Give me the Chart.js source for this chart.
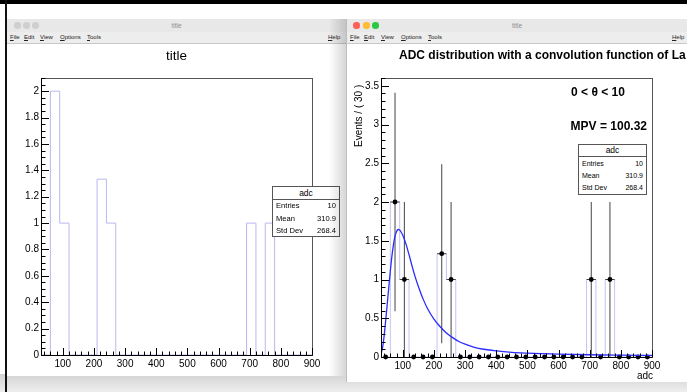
<!DOCTYPE html>
<html>
<head>
<meta charset="utf-8">
<script src="https://cdn.jsdelivr.net/npm/chart.js@4.4.1/dist/chart.umd.min.js"></script>
<style>
  body { margin: 0; width: 687px; height: 392px; overflow: hidden; background: #fff; position: relative;
         font-family: "Liberation Sans", Arial, Helvetica, sans-serif; }
  .abs { position: absolute; }
  #shadowBottom { left: 0; top: 374px; width: 687px; height: 18px; background: linear-gradient(#d2d2d2, #eeeeee); }
  #topbar { left: 0; top: 0; width: 687px; height: 4px; background: #000; z-index: 9; }
  #leftline { left: 5px; top: 0; width: 2px; height: 392px; background: #111; z-index: 9; }
  .win { position: absolute; background: #fff; overflow: hidden; }
  .titlebar { position: absolute; left: 0; top: 0; right: 0; height: 13px; background: #e8e8e8;
              font-size: 6.5px; color: #8c8c8c; text-align: center; line-height: 13px; }
  .dot { position: absolute; top: 3px; width: 6.5px; height: 6.5px; border-radius: 50%; }
  .menubar { position: absolute; left: 0; top: 13px; right: 0; height: 11px; background: #ededed;
             border-bottom: 1px solid #c9c9c9; font-size: 6px; line-height: 11px; color: #222; }
  .menubar span { position: absolute; top: 0; }
  canvas { position: absolute; }
  .stat { position: absolute; background: #fff; border: 1px solid #555; box-sizing: border-box; color: #000; }
  .stat .hd { text-align: center; border-bottom: 1px solid #555; }
  .stat .row { position: relative; padding: 0 3px; }
  .stat .row b { font-weight: normal; position: absolute; right: 3px; top: 0; }
  .lbl { position: absolute; color: #000; white-space: nowrap; z-index: 5; }
</style>
</head>
<body>
<div id="shadowBottom" class="abs"></div>

<div class="win" id="winL" style="left:7px; top:19px; width:339px; height:357px;">
  <div class="titlebar">title
    <div class="dot" style="left:7px; background:#cfcfcf;"></div>
    <div class="dot" style="left:16px; background:#cfcfcf;"></div>
    <div class="dot" style="left:25px; background:#cfcfcf;"></div>
  </div>
  <div class="menubar">
    <span style="left:3px"><u>F</u>ile</span>
    <span style="left:17px"><u>E</u>dit</span>
    <span style="left:33px"><u>V</u>iew</span>
    <span style="left:53px"><u>O</u>ptions</span>
    <span style="left:80px"><u>T</u>ools</span>
    <span style="left:321px"><u>H</u>elp</span>
  </div>
  <canvas id="leftChart" width="339" height="332" style="left:0; top:25px;"></canvas>
  <div class="lbl" style="left:0; width:339px; top:29px; text-align:center; font-size:13.5px;">title</div>
  <div class="stat" style="left:265px; top:167px; width:68px; height:51px; font-size:7.6px;">
    <div class="hd" style="height:12px; line-height:12px; font-size:8.5px;">adc</div>
    <div class="row" style="height:12.5px; line-height:12.5px;">Entries<b>10</b></div>
    <div class="row" style="height:12.5px; line-height:12.5px;">Mean<b>310.9</b></div>
    <div class="row" style="height:12.5px; line-height:12.5px;">Std Dev<b>268.4</b></div>
  </div>
  <div class="abs" style="left:322px; top:0; width:17px; height:357px; background:linear-gradient(to right, rgba(0,0,0,0), rgba(0,0,0,0.16)); z-index:6;"></div>
</div>

<div class="win" id="winR" style="left:346px; top:19px; width:341px; height:363px; border-left:1px solid #bdbdbd; box-sizing:border-box;">
  <div class="titlebar">title
    <div class="dot" style="left:6px; background:#fe5f57;"></div>
    <div class="dot" style="left:16px; background:#febc2e;"></div>
    <div class="dot" style="left:25px; background:#28c840;"></div>
  </div>
  <div class="menubar">
    <span style="left:3px"><u>F</u>ile</span>
    <span style="left:17px"><u>E</u>dit</span>
    <span style="left:34px"><u>V</u>iew</span>
    <span style="left:54px"><u>O</u>ptions</span>
    <span style="left:81px"><u>T</u>ools</span>
    <span style="left:325px"><u>H</u>elp</span>
  </div>
  <canvas id="rightChart" width="340" height="338" style="left:0; top:25px;"></canvas>
  <div class="lbl" style="left:52px; top:29px; font-size:12px; font-weight:bold;">ADC distribution with a convolution function of La</div>
  <div class="lbl" style="left:6px; top:128px; font-size:10px; transform:rotate(-90deg); transform-origin:0 0;">Events / ( 30 )</div>
  <div class="lbl" style="left:221px; top:66px; width:60px; text-align:center; font-size:12px; font-weight:bold;">0 &lt; &theta; &lt; 10</div>
  <div class="lbl" style="right:40px; top:100px; font-size:12px; font-weight:bold;">MPV = 100.32</div>
  <div class="stat" style="left:231px; top:125px; width:69px; height:51px; font-size:7px;">
    <div class="hd" style="height:11px; line-height:11px; font-size:8.5px;">adc</div>
    <div class="row" style="height:12.5px; line-height:13px;">Entries<b>10</b></div>
    <div class="row" style="height:12.5px; line-height:12px;">Mean<b>310.9</b></div>
    <div class="row" style="height:12.5px; line-height:11px;">Std Dev<b>268.4</b></div>
  </div>
  <div class="lbl" style="right:34px; top:351px; font-size:10px;">adc</div>
</div>

<div id="topbar" class="abs"></div>
<div id="leftline" class="abs"></div>

<script>
// histogram binning (bin width 30, range 30..900)
const binCenters = [45, 75, 105, 135, 165, 195, 225, 255, 285, 315, 345, 375, 405, 435, 465,
                    495, 525, 555, 585, 615, 645, 675, 705, 735, 765, 795, 825, 855, 885];
const binCounts = [0, 2, 1, 0, 0, 0, 1.333, 1, 0, 0, 0, 0, 0, 0, 0,
                   0, 0, 0, 0, 0, 0, 0, 1, 0, 1, 0, 0, 0, 0];
const binErrors = [0, 1.41, 1, 0, 0, 0, 1.155, 1, 0, 0, 0, 0, 0, 0, 0,
                   0, 0, 0, 0, 0, 0, 0, 1, 0, 1, 0, 0, 0, 0];
const binHalf = 15;

// landau (x) gauss fit curve
const fitX = [30, 35, 40, 45, 50, 55, 60, 65, 70, 75, 80, 85, 90, 95, 100, 110, 120, 130, 140, 150,
              165, 180, 200, 220, 240, 260, 280, 300, 330, 360, 400, 450, 500, 550, 600, 700, 800, 900];
const fitY = [0.04, 0.12, 0.27, 0.47, 0.68, 0.90, 1.11, 1.30, 1.45, 1.56, 1.62, 1.645, 1.64, 1.61, 1.57, 1.46, 1.32, 1.17, 1.03, 0.91,
              0.75, 0.62, 0.49, 0.39, 0.31, 0.25, 0.20, 0.165, 0.125, 0.10, 0.078, 0.06, 0.05, 0.043, 0.037, 0.029, 0.024, 0.02];

const xTicks = [100, 200, 300, 400, 500, 600, 700, 800, 900];
const leftYTicks = [0, 0.2, 0.4, 0.6, 0.8, 1, 1.2, 1.4, 1.6, 1.8, 2];
const rightYTicks = [0, 0.5, 1, 1.5, 2, 2.5, 3, 3.5];

const FONT = '"Liberation Sans", Arial, Helvetica, sans-serif';

// ROOT style frame with inward ticks
const rootAxes = {
  id: 'rootAxes',
  afterDraw(chart, args, opts) {
    const { ctx, chartArea: a, scales: { x, y } } = chart;
    ctx.save();
    ctx.lineWidth = 1;
    ctx.strokeStyle = '#555';
    ctx.strokeRect(Math.round(a.left) + 0.5, Math.round(a.top) + 0.5, Math.round(a.right - a.left), Math.round(a.bottom - a.top));
    ctx.strokeStyle = '#000';
    ctx.beginPath();
    ctx.moveTo(Math.round(a.left) + 0.5, a.top);
    ctx.lineTo(Math.round(a.left) + 0.5, Math.round(a.bottom) + 0.5);
    ctx.lineTo(a.right, Math.round(a.bottom) + 0.5);
    const bottom = Math.round(a.bottom) + 0.5;
    for (let i = Math.ceil(x.min / opts.xMinor); i * opts.xMinor <= x.max + 1e-9; i++) {
      const v = i * opts.xMinor;
      const px = Math.round(x.getPixelForValue(v)) + 0.5;
      const len = (v % opts.xMajor === 0) ? 7.5 : 4;
      ctx.moveTo(px, bottom);
      ctx.lineTo(px, bottom - len);
    }
    const left = Math.round(a.left) + 0.5;
    for (let i = 0; i * opts.yMinor <= y.max + 1e-9; i++) {
      const v = i * opts.yMinor;
      const py = Math.round(y.getPixelForValue(v)) + 0.5;
      const r = v / opts.yMajor;
      const len = Math.abs(r - Math.round(r)) < 1e-6 ? 7.5 : 4;
      ctx.moveTo(left, py);
      ctx.lineTo(left + len, py);
    }
    ctx.stroke();
    ctx.restore();
  }
};

function histSteps() {
  const pts = binCenters.map((c, i) => ({ x: c - binHalf, y: binCounts[i] }));
  pts.push({ x: binCenters[binCenters.length - 1] + binHalf, y: binCounts[binCounts.length - 1] });
  return pts;
}

function scales(yMax, yTicks, xHeight) {
  const fmt = v => String(Math.round(v * 100) / 100);
  return {
    x: {
      type: 'linear', min: 30, max: 900,
      grid: { display: false, drawTicks: false }, border: { display: false },
      afterBuildTicks: s => { s.ticks = xTicks.map(v => ({ value: v })); },
      afterFit: s => { s.height = xHeight; },
      ticks: { color: '#000', font: { family: FONT, size: 10 }, padding: 3, maxRotation: 0, autoSkip: false, callback: fmt }
    },
    y: {
      type: 'linear', min: 0, max: yMax,
      grid: { display: false, drawTicks: false }, border: { display: false },
      afterBuildTicks: s => { s.ticks = yTicks.map(v => ({ value: v })); },
      afterFit: s => { s.width = 34; },
      ticks: { color: '#000', font: { family: FONT, size: 10 }, padding: 2, autoSkip: false, callback: fmt }
    }
  };
}

new Chart(document.getElementById('leftChart'), {
  type: 'line',
  data: {
    datasets: [{
      data: histSteps(), stepped: 'before', borderColor: '#b8b8ee', borderWidth: 1,
      pointRadius: 0, fill: false
    }]
  },
  options: {
    responsive: false, animation: false, devicePixelRatio: 1,
    layout: { padding: { left: 0, top: 34, right: 34, bottom: 0 } },
    plugins: { legend: { display: false }, tooltip: { enabled: false },
               rootAxes: { xMajor: 100, xMinor: 20, yMajor: 0.2, yMinor: 0.05 } },
    scales: scales(2.1, leftYTicks, 21)
  },
  plugins: [rootAxes]
});

const errBars = [];
binCenters.forEach((c, i) => {
  if (binErrors[i] > 0) {
    errBars.push({ x: c, y: binCounts[i] - binErrors[i] }, { x: c, y: binCounts[i] + binErrors[i] }, { x: c, y: null });
    errBars.push({ x: c - binHalf, y: binCounts[i] }, { x: c + binHalf, y: binCounts[i] }, { x: c, y: null });
  }
});

new Chart(document.getElementById('rightChart'), {
  type: 'line',
  data: {
    datasets: [
      { data: fitX.map((v, i) => ({ x: v, y: fitY[i] })), borderColor: '#2b2bff', borderWidth: 1.3,
        pointRadius: 0, cubicInterpolationMode: 'monotone', fill: false, order: 0 },
      { data: binCenters.map((c, i) => ({ x: c, y: binCounts[i] })), showLine: false,
        pointRadius: 2.4, pointBackgroundColor: '#000', pointBorderWidth: 0, clip: 6, order: 1 },
      { data: errBars, borderColor: '#444', borderWidth: 1, pointRadius: 0, spanGaps: false, fill: false, order: 2 },
      { data: histSteps(), stepped: 'before', borderColor: '#c4c4f4', borderWidth: 1, pointRadius: 0, fill: false, order: 3 }
    ]
  },
  options: {
    responsive: false, animation: false, devicePixelRatio: 1,
    layout: { padding: { left: 0, top: 34, right: 35, bottom: 0 } },
    plugins: { legend: { display: false }, tooltip: { enabled: false },
               rootAxes: { xMajor: 100, xMinor: 20, yMajor: 0.5, yMinor: 0.1 } },
    scales: scales(3.6, rightYTicks, 25)
  },
  plugins: [rootAxes]
});
</script>
</body>
</html>
